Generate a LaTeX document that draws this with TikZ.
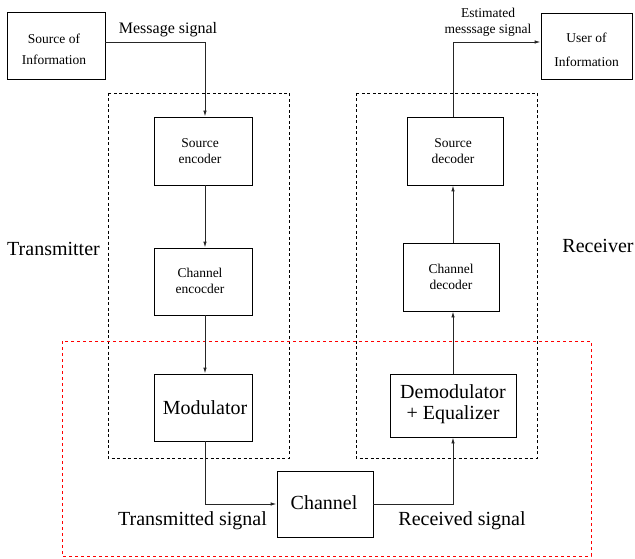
\documentclass[tikz,border=0pt]{standalone}
\usepackage{fontspec}
\setmainfont{Liberation Serif}
\usetikzlibrary{arrows.meta}
\begin{document}
\begin{tikzpicture}[x=1pt,y=-1pt,
  box/.style={draw, line width=0.9pt, align=center, inner sep=0pt, text=black},
  sm/.style={font=\fontsize{13.5}{16.5}\selectfont},
  md/.style={font=\fontsize{16}{18}\selectfont},
  bg/.style={font=\fontsize{20}{21}\selectfont},
  conn/.style={line width=0.9pt, draw=black!85, -{Latex[length=6pt,width=3.5pt]}},
  grp/.style={draw, dash pattern=on 3pt off 2.5pt, line width=0.7pt},
  redgrp/.style={draw=red, dash pattern=on 3pt off 3pt, line width=0.7pt},
  lbl/.style={inner sep=0pt, anchor=base},
  boxtext/.style={inner sep=0pt, align=center}]
\useasboundingbox (0,0) rectangle (635,559);

% group frames
\draw[grp] (108,93) rectangle (289,458);
\draw[grp] (356,93) rectangle (537,458);
\draw[redgrp] (62,341) rectangle (591,556);

% boxes
\node[box, minimum width=98pt, minimum height=67pt] (src) at (56,45.5) {};
\node[boxtext, sm] (srct) at (54,49.5) {Source of\\[4.5pt]Information};
\node[box, minimum width=91pt, minimum height=66pt] (user) at (586.5,46) {};
\node[boxtext, sm] (usert) at (586.5,50) {User of\\[7pt]Information};
\node[box, sm, minimum width=98pt, minimum height=68pt] (senc) at (203,151) {};
\node[boxtext, sm] (senct) at (200,151) {Source\\encoder};
\node[box, sm, minimum width=98pt, minimum height=67pt] (cenc) at (203,281.5) {};
\node[boxtext, sm] (cenct) at (200,281) {Channel\\encocder};
\node[box, bg, minimum width=98pt, minimum height=67pt] (mod) at (203,407.5) {};
\node[boxtext, bg] (modt) at (205,407.5) {Modulator};
\node[box, sm, minimum width=96pt, minimum height=68pt] (sdec) at (455,151) {};
\node[boxtext, sm] (sdect) at (453,151) {Source\\decoder};
\node[box, sm, minimum width=96pt, minimum height=68pt] (cdec) at (451,277) {};
\node[boxtext, sm] (cdect) at (451,277) {Channel\\decoder};
\node[box, bg, minimum width=126pt, minimum height=63pt] (demod) at (453,405.5) {};
\node[boxtext, bg] (demodt) at (453,404) {Demodulator\\+ Equalizer};
\node[box, bg, minimum width=96pt, minimum height=66pt] (chan) at (325,504) {};
\node[boxtext, bg] (chant) at (324,503) {Channel};

% labels
\node[lbl, md] (msg) at (168,34) {Message signal};
\node[lbl, sm] (est1) at (488,17.5) {Estimated};
\node[lbl, sm] (est2) at (488,34) {messsage signal};
\node[lbl, bg] (tx) at (53.5,255) {Transmitter};
\node[lbl, bg] (rx) at (598,252) {Receiver};
\node[lbl, bg] (txs) at (192.5,525) {Transmitted signal};
\node[lbl, bg] (rxs) at (462,525) {Received signal};

% routing points
\coordinate (m1) at (205,42);
\coordinate (m2) at (205,504);
\coordinate (r1) at (453,504);
\coordinate (r2) at (453,42);

% connectors
\draw[conn] (src.east |- m1) -- (m1) -- (senc.north -| m1);
\draw[conn] (senc.south -| m1) -- (cenc.north -| m1);
\draw[conn] (cenc.south -| m1) -- (mod.north -| m1);
\draw[conn] (mod.south -| m2) -- (m2) -- (chan.west);
\draw[conn] (chan.east) -- (r1) -- (demod.south -| r1);
\draw[conn] (demod.north -| r1) -- (cdec.south -| r1);
\draw[conn] (cdec.north -| r1) -- (sdec.south -| r1);
\draw[conn] (sdec.north -| r2) -- (r2) -- (user.west |- r2);
\end{tikzpicture}
\end{document}
